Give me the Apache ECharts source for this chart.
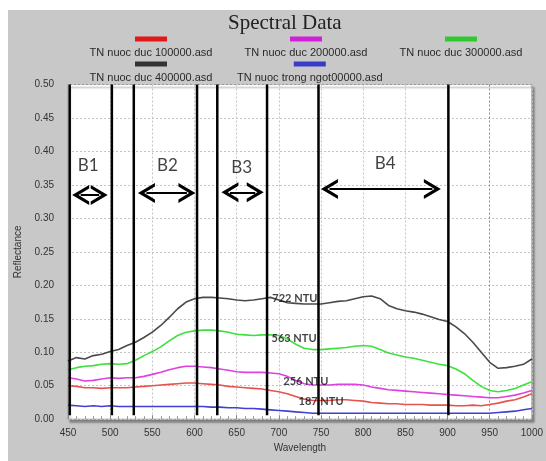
<!DOCTYPE html>
<html>
<head>
<meta charset="utf-8">
<script src="https://cdn.jsdelivr.net/npm/echarts@6/dist/echarts.min.js"></script>
<style>html,body{margin:0;padding:0;background:#fff;}#c{width:546px;height:461px;}</style>
</head>
<body>
<div id="c"></div>
<script>
const wavelength = [450,460,470,480,490,500,510,520,530,540,550,560,570,580,590,600,610,620,630,640,650,660,670,680,690,700,710,720,730,740,750,760,770,780,790,800,810,820,830,840,850,860,870,880,890,900,910,920,930,940,950,960,970,980,990,1000];
const seriesNames = ['TN nuoc duc 100000.asd','TN nuoc duc 200000.asd','TN nuoc duc 300000.asd','TN nuoc duc 400000.asd','TN nuoc trong ngot00000.asd'];
const red100 = [0.050,0.049,0.047,0.047,0.046,0.047,0.047,0.047,0.048,0.049,0.050,0.051,0.052,0.053,0.054,0.054,0.053,0.052,0.051,0.049,0.048,0.047,0.046,0.045,0.043,0.041,0.038,0.034,0.030,0.028,0.028,0.028,0.029,0.029,0.028,0.027,0.025,0.024,0.023,0.023,0.022,0.022,0.022,0.021,0.021,0.021,0.020,0.020,0.021,0.020,0.022,0.024,0.027,0.029,0.033,0.038];
const magenta200 = [0.062,0.060,0.057,0.058,0.060,0.062,0.061,0.062,0.062,0.064,0.067,0.070,0.074,0.077,0.079,0.079,0.078,0.077,0.075,0.073,0.071,0.070,0.070,0.070,0.069,0.068,0.064,0.058,0.053,0.051,0.051,0.051,0.052,0.052,0.052,0.051,0.048,0.046,0.044,0.043,0.042,0.041,0.040,0.039,0.038,0.037,0.036,0.035,0.034,0.033,0.032,0.032,0.034,0.036,0.039,0.043];
const green300 = [0.074,0.077,0.079,0.080,0.082,0.083,0.082,0.083,0.088,0.095,0.101,0.108,0.117,0.125,0.130,0.132,0.133,0.133,0.132,0.130,0.127,0.126,0.125,0.126,0.126,0.125,0.120,0.112,0.106,0.104,0.104,0.105,0.106,0.107,0.109,0.110,0.109,0.104,0.099,0.096,0.093,0.091,0.088,0.085,0.082,0.080,0.075,0.068,0.058,0.049,0.043,0.041,0.043,0.046,0.051,0.056];
const black400 = [0.087,0.092,0.090,0.095,0.097,0.101,0.104,0.110,0.115,0.122,0.130,0.140,0.152,0.165,0.175,0.180,0.182,0.182,0.181,0.180,0.178,0.177,0.178,0.180,0.182,0.178,0.174,0.173,0.172,0.172,0.172,0.174,0.176,0.177,0.180,0.183,0.184,0.180,0.170,0.165,0.162,0.160,0.157,0.153,0.149,0.146,0.138,0.128,0.115,0.100,0.085,0.076,0.077,0.079,0.082,0.090];
const blueClear = [0.021,0.020,0.019,0.020,0.019,0.020,0.019,0.019,0.019,0.019,0.019,0.019,0.019,0.019,0.019,0.019,0.019,0.018,0.018,0.017,0.017,0.016,0.016,0.015,0.014,0.013,0.012,0.011,0.010,0.009,0.009,0.009,0.009,0.009,0.009,0.009,0.009,0.009,0.009,0.009,0.009,0.009,0.009,0.009,0.009,0.009,0.009,0.009,0.009,0.009,0.009,0.010,0.011,0.012,0.014,0.016];
const yTicks = [0,0.05,0.10,0.15,0.20,0.25,0.30,0.35,0.40,0.45,0.50];
const xTicks = [450,500,550,600,650,700,750,800,850,900,950,1000];
// band boundary lines (wavelength)
const bandLines = [452,502,528,603,627,686,747,901];
const bandLineTop = 0.5, bandLineBottom = 0.006;
// band arrows: [start, end, y] (arrow-head centres)
const bandNames = ['B1','B2','B3','B4'];
const bandArrowStart = [465,543,642,760];
const bandArrowEnd = [487,591,672,882];
const bandArrowY = [0.335,0.338,0.339,0.344];
const bandLabelX = [474,568,656,826];
const bandLabelY = [0.379,0.379,0.376,0.382];
// NTU annotations
const ntuLabels = ['722 NTU','563 NTU','256 NTU','187 NTU'];
const ntuX = [719,718,732,750];
const ntuY = [0.181,0.121,0.057,0.026];

const lineColors = ['#e5534b','#e040e0','#3ee03e','#4a4a4a','#3f3fd6'];
const legendColors = ['#e01818','#d020d8','#30c830','#333333','#3a3ac8'];
const values = [red100, magenta200, green300, black400, blueClear];
const legendPos = [[146,38],[301,38],[456,38],[146,63],[301,63]];

const chart = echarts.init(document.getElementById('c'), null, {renderer:'canvas'});

const series = [];
values.forEach((v,i)=>{
  series.push({
    name: seriesNames[i], type:'line', showSymbol:false, symbol:'none',
    data: wavelength.map((w,k)=>[w,v[k]]),
    lineStyle:{color:lineColors[i], width:1.6}, itemStyle:{color:legendColors[i]},
    z: 3, animation:false
  });
});
bandLines.forEach(x=>{
  series.push({type:'line', symbol:'none', data:[[x,bandLineTop],[x,bandLineBottom]],
    lineStyle:{color:'#000', width:2.5}, z:5, animation:false, silent:true});
});
const chevron = 'path://M0,14 L10,0 L20,14 L16.5,14 L10,5.2 L3.5,14 Z';
series.push({
  type:'line', data:[], symbol:'none', animation:false, silent:true,
  markLine:{
    silent:true, animation:false,
    symbol:[chevron, chevron], symbolSize:[20,17],
    lineStyle:{color:'#000', width:2, type:'solid'},
    label:{show:false},
    data: bandNames.map((n,i)=>[{coord:[bandArrowStart[i], bandArrowY[i]]},{coord:[bandArrowEnd[i], bandArrowY[i]]}])
  }, z:6
});
series.push({
  type:'scatter', symbolSize:0, animation:false, silent:true, z:7,
  data: bandNames.map((n,i)=>({value:[bandLabelX[i], bandLabelY[i]], name:n})),
  label:{show:true, position:'inside', formatter:p=>p.name, color:'#111', fontSize:17, fontFamily:'Lato'}
});
series.push({
  type:'scatter', symbolSize:0, animation:false, silent:true, z:7,
  data: ntuLabels.map((n,i)=>({value:[ntuX[i], ntuY[i]], name:n})),
  label:{show:true, position:'inside', formatter:p=>p.name, color:'#111', fontSize:11, fontWeight:'bold', fontFamily:'Lato'}
});

const legends = seriesNames.map((n,i)=>({
  data:[n], icon:'none', itemWidth:0, itemHeight:0, itemGap:0, padding:0,
  left: legendPos[i][0]-64, top: legendPos[i][1]-5,
  selectedMode:false,
  formatter: '{bar|}\n{t|' + n + '}',
  textStyle:{
    rich:{
      bar:{width:32, height:5, backgroundColor:legendColors[i], align:'center'},
      t:{fontSize:11, color:'#2a2a2a', fontFamily:'Liberation Sans', align:'center', padding:[6,0,0,0], width:128}
    }
  }
}));

const splitColors = xTicks.map(x=> x===950 ? '#8a8a8a' : '#c4c4c4');

chart.setOption({
  animation:false,
  graphic:[{type:'rect', shape:{x:8,y:10,width:538,height:451}, style:{fill:'#c8c8c8'}, z:-100, silent:true}],
  title:{text:'Spectral Data', left:223, top:8, textStyle:{fontFamily:'Liberation Serif', fontSize:21, fontWeight:'normal', color:'#222'}},
  legend: legends,
  grid:{left:68, right:12, top:84.5, bottom:41.8, show:true, backgroundColor:'#fff', borderColor:'#9a9a9a', borderWidth:1,
        shadowColor:'rgba(0,0,0,0.35)', shadowOffsetX:2, shadowOffsetY:3, shadowBlur:2},
  xAxis:{type:'value', min:450, max:1000, interval:50,
    name:'Wavelength', nameLocation:'middle', nameGap:22, nameTextStyle:{fontSize:10, color:'#333', fontFamily:'Liberation Sans'},
    axisLine:{show:false},
    axisTick:{show:true, inside:true, length:4, lineStyle:{color:'#888'}},
    minorTick:{show:true, splitNumber:5, length:3, lineStyle:{color:'#999'}},
    axisLabel:{fontSize:10, color:'#333', fontFamily:'Liberation Sans', margin:9, formatter:v=>String(v)},
    splitLine:{show:true, lineStyle:{color:splitColors, type:[2,2], width:1}}
  },
  yAxis:{type:'value', min:0, max:0.5, interval:0.05,
    name:'Reflectance', nameLocation:'middle', nameGap:44, nameRotate:90, nameTextStyle:{fontSize:10, color:'#333', fontFamily:'Liberation Sans'},
    axisLine:{show:false}, axisTick:{show:false},
    axisLabel:{fontSize:10, color:'#333', fontFamily:'Liberation Sans', margin:14, formatter:v=>v.toFixed(2)},
    splitLine:{show:true, lineStyle:{color:'#c4c4c4', type:[2,2], width:1}}
  },
  series: series
});
</script>
</body>
</html>
